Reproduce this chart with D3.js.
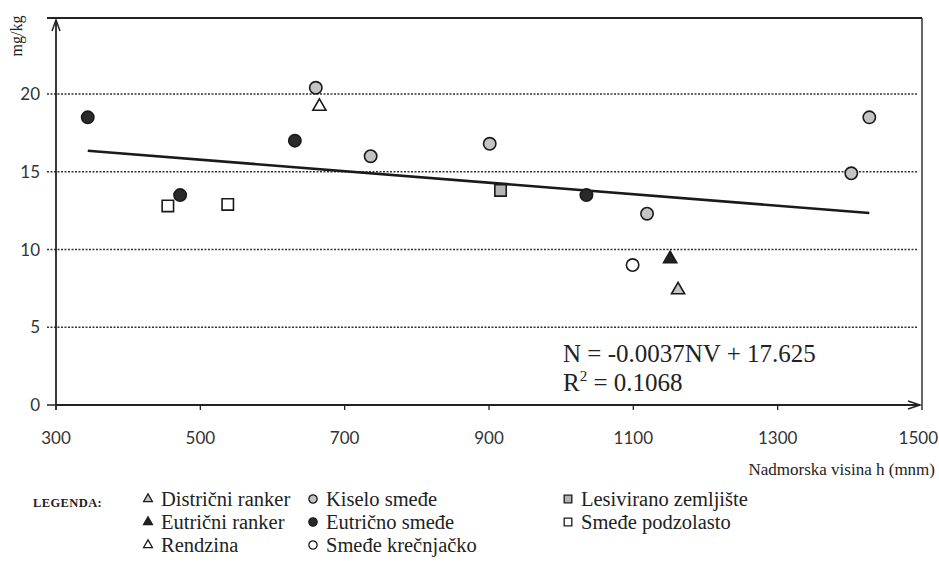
<!DOCTYPE html>
<html>
<head>
<meta charset="utf-8">
<script src="https://cdn.jsdelivr.net/npm/d3@7"></script>
<style>
  body { margin: 0; background: #ffffff; }
  svg { display: block; }
  .serif { font-family: "Liberation Serif", "Times New Roman", serif; fill: #222; }
  .tick-label { font-family: Lato, "Open Sans", sans-serif; font-size: 17px; fill: #333; }
</style>
</head>
<body>
<div id="chart"></div>
<script>
// Données
var altitudes = [344, 472, 455, 538, 631, 660, 665, 736, 901, 916, 1035, 1119, 1099, 1151, 1162, 1402, 1427];
var valeurs   = [18.5, 13.5, 12.8, 12.9, 17.0, 20.4, 19.2, 16.0, 16.8, 13.8, 13.5, 12.3, 9.0, 9.4, 7.4, 14.9, 18.5];
var typesSol  = ["Eutrično smeđe", "Eutrično smeđe", "Smeđe podzolasto", "Smeđe podzolasto", "Eutrično smeđe",
                 "Kiselo smeđe", "Rendzina", "Kiselo smeđe", "Kiselo smeđe", "Lesivirano zemljište",
                 "Eutrično smeđe", "Kiselo smeđe", "Smeđe krečnjačko", "Eutrični ranker", "Distrični ranker",
                 "Kiselo smeđe", "Kiselo smeđe"];

// Légende (dans l'ordre des lignes)
var legendeTypes = ["Distrični ranker", "Kiselo smeđe", "Lesivirano zemljište",
                    "Eutrični ranker", "Eutrično smeđe", "Smeđe podzolasto",
                    "Rendzina", "Smeđe krečnjačko"];

// Axes
var xTicks = [300, 500, 700, 900, 1100, 1300, 1500];
var yTicks = [0, 5, 10, 15, 20];

// Régression
var pente = -0.0037;
var ordonnee = 17.625;
var equation = "N = -0.0037NV + 17.625";
var r2 = "0.1068";

// Style des symboles par type
var styles = {
    "Distrični ranker":     { forme: d3.symbolTriangle, fill: "#c4c4c4" },
    "Kiselo smeđe":         { forme: d3.symbolCircle,   fill: "#c4c4c4" },
    "Lesivirano zemljište": { forme: d3.symbolSquare,   fill: "#b4b4b4" },
    "Eutrični ranker":      { forme: d3.symbolTriangle, fill: "#222" },
    "Eutrično smeđe":       { forme: d3.symbolCircle,   fill: "#2a2a2a" },
    "Smeđe podzolasto":     { forme: d3.symbolSquare,   fill: "#fff" },
    "Rendzina":             { forme: d3.symbolTriangle, fill: "#fff" },
    "Smeđe krečnjačko":     { forme: d3.symbolCircle,   fill: "#fff" }
};
var tailles = { circle: 120, triangle: 75, square: 130 };
function taille(forme, k) {
    var s = forme === d3.symbolCircle ? tailles.circle : (forme === d3.symbolTriangle ? tailles.triangle : tailles.square);
    return s * k;
}

var width = 939, height = 584;

var svg = d3.select("#chart").append("svg")
    .attr("width", width)
    .attr("height", height);

var x = d3.scaleLinear().domain([300, 1500]).range([56, 922]);
var y = d3.scaleLinear().domain([0, 20]).range([405, 94]);

// cadre haut et droit
svg.append("line").attr("x1", 47).attr("x2", x(1500)).attr("y1", 18).attr("y2", 18)
    .attr("stroke", "#222").attr("stroke-width", 2);
svg.append("line").attr("x1", x(1500)).attr("x2", x(1500)).attr("y1", 18).attr("y2", 410)
    .attr("stroke", "#333").attr("stroke-width", 1.5);

// lignes de grille pointillées
svg.selectAll(".grid")
    .data(yTicks.filter(function (d) { return d > 0; }))
    .enter().append("line")
    .attr("class", "grid")
    .attr("x1", 47).attr("x2", 917)
    .attr("y1", function (d) { return y(d); })
    .attr("y2", function (d) { return y(d); })
    .attr("stroke", "#333")
    .attr("stroke-width", 1.3)
    .attr("stroke-dasharray", "2,1.5");

// axe Y
svg.append("line").attr("x1", x(300)).attr("x2", x(300)).attr("y1", 410).attr("y2", 20)
    .attr("stroke", "#222").attr("stroke-width", 1.8);
svg.append("path").attr("d", "M" + (x(300) - 4) + ",31 L" + x(300) + ",20 L" + (x(300) + 4) + ",31")
    .attr("fill", "none").attr("stroke", "#222").attr("stroke-width", 1.5);
svg.append("line").attr("x1", 47).attr("x2", x(300)).attr("y1", y(0)).attr("y2", y(0))
    .attr("stroke", "#222").attr("stroke-width", 1.5);

svg.selectAll(".ylab")
    .data(yTicks)
    .enter().append("text")
    .attr("class", "tick-label")
    .attr("x", 40)
    .attr("y", function (d) { return y(d) + 6; })
    .attr("text-anchor", "end")
    .text(function (d) { return d; });

svg.append("text")
    .attr("class", "serif")
    .attr("transform", "translate(22,36) rotate(-90)")
    .attr("text-anchor", "middle")
    .style("font-size", "16px")
    .text("mg/kg");

// axe X
svg.append("line").attr("x1", x(300)).attr("x2", x(1500) - 2).attr("y1", y(0)).attr("y2", y(0))
    .attr("stroke", "#222").attr("stroke-width", 2);
svg.append("path").attr("d", "M" + (x(1500) - 14) + "," + (y(0) - 4) + " L" + (x(1500) - 2) + "," + y(0) + " L" + (x(1500) - 14) + "," + (y(0) + 4))
    .attr("fill", "none").attr("stroke", "#222").attr("stroke-width", 1.5);

svg.selectAll(".xtick")
    .data(xTicks.slice(1, -1))
    .enter().append("line")
    .attr("x1", function (d) { return x(d); })
    .attr("x2", function (d) { return x(d); })
    .attr("y1", y(0)).attr("y2", y(0) + 5)
    .attr("stroke", "#222").attr("stroke-width", 1.3);

svg.selectAll(".xlab")
    .data(xTicks)
    .enter().append("text")
    .attr("class", "tick-label")
    .attr("x", function (d, i) { return i === xTicks.length - 1 ? 938 : x(d); })
    .attr("y", 444)
    .attr("text-anchor", function (d, i) { return i === xTicks.length - 1 ? "end" : "middle"; })
    .text(function (d) { return d; });

svg.append("text")
    .attr("class", "serif")
    .attr("x", 935)
    .attr("y", 475)
    .attr("text-anchor", "end")
    .style("font-size", "17px")
    .text("Nadmorska visina h (mnm)");

// droite de régression
var xmin = d3.min(altitudes), xmax = d3.max(altitudes);
svg.append("line")
    .attr("x1", x(xmin)).attr("y1", y(pente * xmin + ordonnee))
    .attr("x2", x(xmax)).attr("y2", y(pente * xmax + ordonnee))
    .attr("stroke", "#1a1a1a")
    .attr("stroke-width", 2.6);

// points
var points = altitudes.map(function (a, i) {
    return { alt: a, val: valeurs[i], type: typesSol[i] };
});

svg.selectAll(".pt")
    .data(points)
    .enter().append("path")
    .attr("class", "pt")
    .attr("transform", function (d) { return "translate(" + x(d.alt) + "," + y(d.val) + ")"; })
    .attr("d", function (d) {
        var f = styles[d.type].forme;
        return d3.symbol().type(f).size(taille(f, 1))();
    })
    .attr("fill", function (d) { return styles[d.type].fill; })
    .attr("stroke", "#1a1a1a")
    .attr("stroke-width", 1.6);

// équation
var eq = svg.append("g").attr("class", "serif").style("font-size", "25px");
eq.append("text").attr("x", 563).attr("y", 362).text(equation);
var r2txt = eq.append("text").attr("x", 563).attr("y", 391);
r2txt.append("tspan").text("R");
r2txt.append("tspan").attr("dy", -10).style("font-size", "15px").text("2");
r2txt.append("tspan").attr("dy", 10).text(" = " + r2);

// légende
svg.append("text")
    .attr("class", "serif")
    .attr("x", 33)
    .attr("y", 507)
    .style("font-size", "12.5px")
    .style("letter-spacing", "0.4px")
    .style("font-weight", "bold")
    .text("LEGENDA:");

var colX = [148, 313, 568];
var rowY = [499, 522, 545];

var leg = svg.selectAll(".legend")
    .data(legendeTypes)
    .enter().append("g")
    .attr("class", "legend")
    .attr("transform", function (d, i) {
        return "translate(" + colX[i % 3] + "," + rowY[Math.floor(i / 3)] + ")";
    });

leg.append("path")
    .attr("d", function (d) {
        var f = styles[d].forme;
        return d3.symbol().type(f).size(taille(f, 0.45))();
    })
    .attr("fill", function (d) { return styles[d].fill; })
    .attr("stroke", "#1a1a1a")
    .attr("stroke-width", 1.3);

leg.append("text")
    .attr("class", "serif")
    .attr("x", 13)
    .attr("y", 7)
    .style("font-size", "20.5px")
    .text(function (d) { return d; });
</script>
</body>
</html>
